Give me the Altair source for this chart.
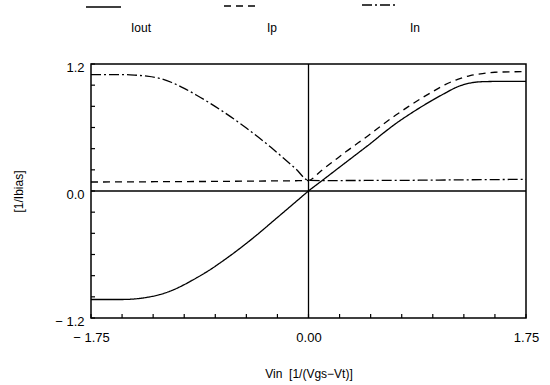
import altair as alt
import pandas as pd

# ---- data ----
x_vals = [-1.75, -1.5, -1.4, -1.3, -1.2, -1.1, -1.0, -0.9, -0.8, -0.7, -0.6, -0.5,
          -0.4, -0.3, -0.2, -0.1, 0.0, 0.1, 0.2, 0.3, 0.4, 0.5, 0.6, 0.7, 0.8, 0.9,
          1.0, 1.1, 1.2, 1.3, 1.4, 1.5, 1.75]
iout = [-1.025, -1.025, -1.02, -1.005, -0.98, -0.94, -0.885, -0.82, -0.75, -0.67,
        -0.585, -0.495, -0.4, -0.3, -0.2, -0.1, 0.0, 0.09, 0.18, 0.27, 0.36,
        0.45, 0.545, 0.635, 0.715, 0.79, 0.86, 0.925, 0.985, 1.02, 1.033, 1.035, 1.035]
ip = [0.085, 0.086, 0.087, 0.087, 0.088, 0.088, 0.089, 0.09, 0.09, 0.091, 0.092,
      0.093, 0.094, 0.095, 0.096, 0.097, 0.10, 0.19, 0.28, 0.37, 0.455, 0.54, 0.63,
      0.715, 0.795, 0.87, 0.94, 1.005, 1.055, 1.09, 1.11, 1.122, 1.128]
inn = [1.10, 1.10, 1.095, 1.085, 1.065, 1.025, 0.97, 0.905, 0.835, 0.76, 0.68, 0.595,
       0.505, 0.41, 0.31, 0.207, 0.10, 0.098, 0.098, 0.099, 0.099, 0.10, 0.10, 0.101,
       0.101, 0.102, 0.103, 0.104, 0.105, 0.106, 0.107, 0.108, 0.11]
series_names = ["Iout", "Ip", "In"]

x_tick_values = [-1.75, -1.5, -1.25, -1.0, -0.75, -0.5, -0.25, 0.0, 0.25, 0.5, 0.75,
                 1.0, 1.25, 1.5, 1.75]
y_tick_values = [-1.2, -1.0, -0.8, -0.6, -0.4, -0.2, 0.0, 0.2, 0.4, 0.6, 0.8, 1.0, 1.2]
x_label_values = [-1.75, 0.0, 1.75]
x_label_texts = ["\u2212 1.75", "0.00", "1.75"]
y_label_values = [-1.2, 0.0, 1.2]
y_label_texts = ["\u2212 1.2", "0.0", "1.2"]
x_title = "Vin\u00a0\u00a0[1/(Vgs\u2212Vt)]"
y_title = "[1/Ibias]"

# ---- layout / style ----
W, H = 435, 254
FONT = "Liberation Sans"
dashes = [[1, 0], [7, 5], [10, 3, 2, 3]]

rows = []
for name, vals in zip(series_names, [iout, ip, inn]):
    for xv, yv in zip(x_vals, vals):
        rows.append({"x": xv, "y": yv, "series": name})
df = pd.DataFrame(rows)

xscale = alt.Scale(domain=[-1.75, 1.75], nice=False, zero=False)
yscale = alt.Scale(domain=[-1.2, 1.2], nice=False, zero=False)


def label_expr(values, texts):
    expr = "''"
    for v, t in zip(values, texts):
        expr = f"abs(datum.value - ({v})) < 1e-6 ? '{t}' : " + expr
    return expr


xaxis = alt.Axis(values=x_label_values, labelExpr=label_expr(x_label_values, x_label_texts),
                 ticks=False, domain=False, grid=False, labelPadding=13,
                 labelFontSize=13, labelFont=FONT, labelColor="black",
                 title=x_title, titleFont=FONT, titleFontSize=12, titleFontWeight="normal",
                 titleColor="black", titlePadding=24, labelFlush=False)
yaxis = alt.Axis(values=y_label_values, labelExpr=label_expr(y_label_values, y_label_texts),
                 ticks=False, domain=False, grid=False, labelPadding=7,
                 labelFontSize=13, labelFont=FONT, labelColor="black", labelOffset=3,
                 title=y_title, titleFont=FONT, titleFontSize=12, titleFontWeight="normal",
                 titleColor="black", titlePadding=29, labelFlush=False)

lines = alt.Chart(df).mark_line(color="black", strokeWidth=1.3, interpolate="monotone").encode(
    x=alt.X("x:Q", scale=xscale, axis=xaxis),
    y=alt.Y("y:Q", scale=yscale, axis=yaxis),
    strokeDash=alt.StrokeDash("series:N", scale=alt.Scale(domain=series_names, range=dashes),
                              legend=None),
    detail="series:N",
)

zero_v = alt.Chart(pd.DataFrame({"z": [0.0]})).mark_rule(color="black", strokeWidth=1.3).encode(
    x=alt.X("z:Q", scale=xscale))
zero_h = alt.Chart(pd.DataFrame({"z": [0.0]})).mark_rule(color="black", strokeWidth=1.3).encode(
    y=alt.Y("z:Q", scale=yscale))

xticks = alt.Chart(pd.DataFrame({"t": x_tick_values})).mark_rule(color="black", strokeWidth=1.2).encode(
    x=alt.X("t:Q", scale=xscale), y=alt.value(H), y2=alt.value(H - 4))
yticks = alt.Chart(pd.DataFrame({"t": y_tick_values})).mark_rule(color="black", strokeWidth=1.2).encode(
    y=alt.Y("t:Q", scale=yscale), x=alt.value(0), x2=alt.value(4))

# manual legend at top
legend_sample_x = [(-5, 30), (133, 169), (271, 307)]
legend_sample_y = [-57, -58, -59]
legend_text_x = [40, 176, 319]
legend_text_y = -36
one = pd.DataFrame({"a": [0]})
legend_layers = []
for name, d, (x0, x1), ly, tx in zip(series_names, dashes, legend_sample_x, legend_sample_y, legend_text_x):
    legend_layers.append(
        alt.Chart(one).mark_rule(color="black", strokeWidth=1.3, strokeDash=d).encode(
            x=alt.value(x0), x2=alt.value(x1), y=alt.value(ly)))
    legend_layers.append(
        alt.Chart(one).mark_text(font=FONT, fontSize=12, align="left", baseline="middle",
                                 color="black").encode(
            x=alt.value(tx), y=alt.value(legend_text_y), text=alt.value(name)))

chart = alt.layer(lines, zero_v, zero_h, xticks, yticks, *legend_layers).properties(
    width=W, height=H,
    autosize=alt.AutoSizeParams(type="none"),
    padding={"left": 91, "top": 64, "right": 24, "bottom": 67},
    background="white",
).configure_view(stroke="black", strokeWidth=1.5)

chart.save("out.html", embed_options={"renderer": "svg", "actions": False})
